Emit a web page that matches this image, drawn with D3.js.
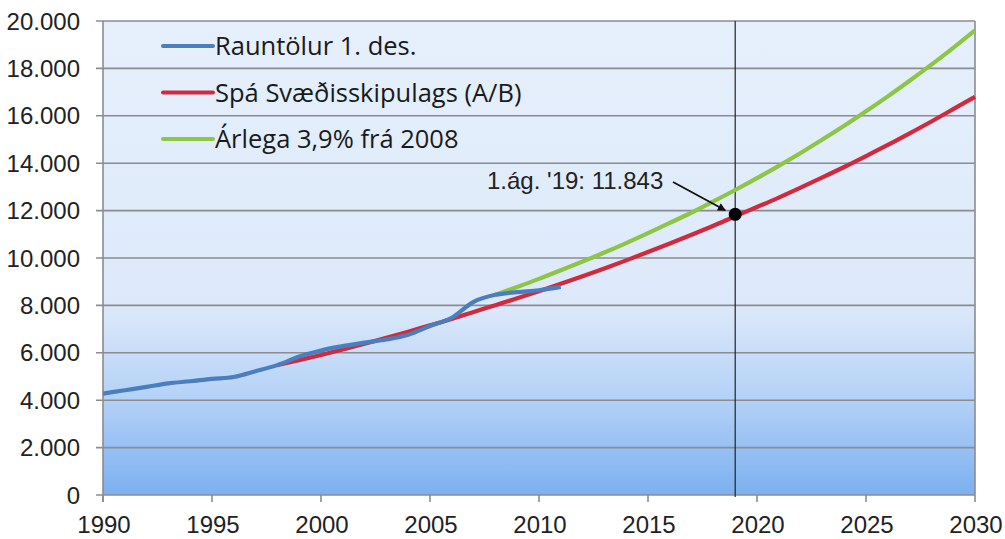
<!DOCTYPE html>
<html>
<head>
<meta charset="utf-8">
<script src="https://cdn.jsdelivr.net/npm/d3@7"></script>
<style>
  body { margin: 0; background: #fff; }
  svg { display: block; }
</style>
</head>
<body>
<div id="chart"></div>
<script>
// Data
// ==================================================================
const realYears = [1990, 1991, 1992, 1993, 1994, 1995, 1996, 1997, 1998, 1999, 2000,
    2001, 2002, 2003, 2004, 2005, 2006, 2007, 2008, 2009, 2010, 2011];
const realValues = [4280, 4420, 4560, 4710, 4800, 4900, 4980, 5220, 5480, 5840, 6100,
    6280, 6430, 6560, 6760, 7130, 7480, 8150, 8450, 8560, 8640, 8780];

const forecastYears = [1998, 1999, 2000, 2001, 2002, 2003, 2004, 2005, 2006, 2007, 2008,
    2009, 2010, 2011, 2012, 2013, 2014, 2015, 2016, 2017, 2018, 2019, 2020,
    2021, 2022, 2023, 2024, 2025, 2026, 2027, 2028, 2029, 2030];
const forecastValues = [5480, 5690, 5910, 6140, 6380, 6630, 6890, 7160, 7430, 7720, 8010,
    8300, 8600, 8910, 9230, 9560, 9900, 10250, 10610, 10980, 11360, 11760, 12150,
    12550, 12970, 13400, 13840, 14300, 14770, 15260, 15760, 16280, 16800];

const growthYears = [2008, 2009, 2010, 2011, 2012, 2013, 2014, 2015, 2016, 2017, 2018,
    2019, 2020, 2021, 2022, 2023, 2024, 2025, 2026, 2027, 2028, 2029, 2030];
const growthValues = [8450, 8780, 9120, 9480, 9850, 10230, 10630, 11050, 11480, 11920, 12390,
    12870, 13370, 13890, 14430, 15000, 15580, 16190, 16820, 17480, 18160, 18870, 19600];

const seriesNames = ["Rauntölur 1. des.", "Spá Svæðisskipulags (A/B)", "Árlega 3,9% frá 2008"];
const seriesColors = ["#4a7ebf", "#d12a3e", "#8dc544"];

const xTicks = [1990, 1995, 2000, 2005, 2010, 2015, 2020, 2025, 2030];
const yTicks = [0, 2000, 4000, 6000, 8000, 10000, 12000, 14000, 16000, 18000, 20000];

const markYear = 2019;
const markPoint = {year: 2019, value: 11843, label: "1.ág. '19: 11.843"};

// Layout
// ==================================================================
const W = 1005, H = 539,
    margin = {top: 21, right: 30, bottom: 44, left: 103},
    width = W - margin.left - margin.right,
    height = H - margin.top - margin.bottom;

const locale = d3.formatLocale({decimal: ",", thousands: ".", grouping: [3], currency: ["", ""]});
const fmt = locale.format(",d");

let xScale = d3.scaleLinear().domain([1990, 2030]).range([0, width]);
let yScale = d3.scaleLinear().domain([0, 20000]).range([height, 0]);

let svg = d3.select("#chart")
    .append("svg")
        .attr("width", W)
        .attr("height", H)
    .append("g")
        .attr("transform", "translate(" + margin.left + "," + margin.top + ")");

// Background gradient
const defs = svg.append("defs");
const grad = defs.append("linearGradient")
    .attr("id", "bg").attr("x1", 0).attr("y1", 0).attr("x2", 0).attr("y2", 1);
[[0, "#e6f0fc"], [0.6, "#dde9fa"], [0.8, "#b3d1f7"], [1, "#7cb0ef"]].forEach(s => {
    grad.append("stop").attr("offset", s[0]).attr("stop-color", s[1]);
});
defs.append("marker")
    .attr("id", "arrow").attr("viewBox", "0 0 10 10")
    .attr("refX", 9).attr("refY", 5)
    .attr("markerWidth", 9).attr("markerHeight", 8)
    .attr("markerUnits", "userSpaceOnUse")
    .attr("orient", "auto")
  .append("path").attr("d", "M0,0 L10,5 L0,10 Z").attr("fill", "#111");

svg.append("rect")
    .attr("width", width).attr("height", height)
    .attr("fill", "url(#bg)");

// Grid lines and ticks
svg.selectAll("line.grid")
    .data(yTicks)
    .enter()
    .append("line")
        .attr("class", "grid")
        .attr("x1", -7).attr("x2", width)
        .attr("y1", d => yScale(d)).attr("y2", d => yScale(d))
        .attr("stroke", "#8a8c90").attr("stroke-width", 1.6);

svg.append("line")
    .attr("x1", width).attr("x2", width)
    .attr("y1", 0).attr("y2", height)
    .attr("stroke", "#8a8c90").attr("stroke-width", 1.6);

svg.append("line")
    .attr("x1", 0).attr("x2", 0)
    .attr("y1", 0).attr("y2", height + 7)
    .attr("stroke", "#8a8c90").attr("stroke-width", 1.6);

svg.selectAll("line.xtick")
    .data(xTicks)
    .enter()
    .append("line")
        .attr("class", "xtick")
        .attr("x1", d => xScale(d)).attr("x2", d => xScale(d))
        .attr("y1", height).attr("y2", height + 7)
        .attr("stroke", "#8a8c90").attr("stroke-width", 1.6);

svg.selectAll("text.ylab")
    .data(yTicks)
    .enter()
    .append("text")
        .attr("class", "ylab")
        .attr("x", -23)
        .attr("y", d => yScale(d))
        .attr("dy", "0.36em")
        .attr("text-anchor", "end")
        .attr("font-family", "Liberation Sans, Arial, sans-serif")
        .attr("font-size", "24px")
        .attr("fill", "#222")
        .text(d => fmt(d));

svg.selectAll("text.xlab")
    .data(xTicks)
    .enter()
    .append("text")
        .attr("class", "xlab")
        .attr("x", d => xScale(d) + 1)
        .attr("y", height + 38)
        .attr("text-anchor", "middle")
        .attr("font-family", "Liberation Sans, Arial, sans-serif")
        .attr("font-size", "24px")
        .attr("fill", "#222")
        .text(d => d);

// Vertical marker line
svg.append("line")
    .attr("x1", xScale(markYear)).attr("x2", xScale(markYear))
    .attr("y1", 0).attr("y2", height + 2)
    .attr("stroke", "#222").attr("stroke-width", 1.2);

// Series
const line = d3.line()
    .x(d => xScale(d[0]))
    .y(d => yScale(d[1]))
    .curve(d3.curveMonotoneX);

const series = [
    d3.zip(realYears, realValues),
    d3.zip(forecastYears, forecastValues),
    d3.zip(growthYears, growthValues)
];

// draw order: green, red, then blue on top
[2, 1, 0].forEach(i => {
    svg.append("path")
        .datum(series[i])
        .attr("fill", "none")
        .attr("stroke", seriesColors[i])
        .attr("stroke-width", 4.2)
        .attr("stroke-linejoin", "round")
        .attr("d", line);
});

// Annotation
svg.append("line")
    .attr("x1", 673 - margin.left).attr("y1", 182 - margin.top)
    .attr("x2", xScale(markPoint.year) - 10).attr("y2", yScale(markPoint.value) - 4)
    .attr("stroke", "#111").attr("stroke-width", 1.8)
    .attr("marker-end", "url(#arrow)");

svg.append("circle")
    .attr("cx", xScale(markPoint.year))
    .attr("cy", yScale(markPoint.value))
    .attr("r", 6.5)
    .attr("fill", "#000");

svg.append("text")
    .attr("x", 487 - margin.left)
    .attr("y", 189 - margin.top)
    .attr("font-family", "Liberation Sans, Arial, sans-serif")
    .attr("font-size", "24px")
    .attr("fill", "#222")
    .text(markPoint.label);

// Legend
const legend = svg.selectAll("g.legend")
    .data(seriesNames)
    .enter()
    .append("g")
        .attr("class", "legend")
        .attr("transform", (d, i) => "translate(60," + (25 + i * 46.5) + ")");

legend.append("line")
    .attr("x1", 0).attr("x2", 50)
    .attr("stroke", (d, i) => seriesColors[i])
    .attr("stroke-width", 4)
    .attr("stroke-linecap", "round");

legend.append("text")
    .attr("x", 52)
    .attr("dy", "0.36em")
    .attr("font-family", "Open Sans, Lato, sans-serif")
    .attr("font-size", "25.5px")
    .attr("fill", "#1a1a1a")
    .text(d => d);
</script>
</body>
</html>
